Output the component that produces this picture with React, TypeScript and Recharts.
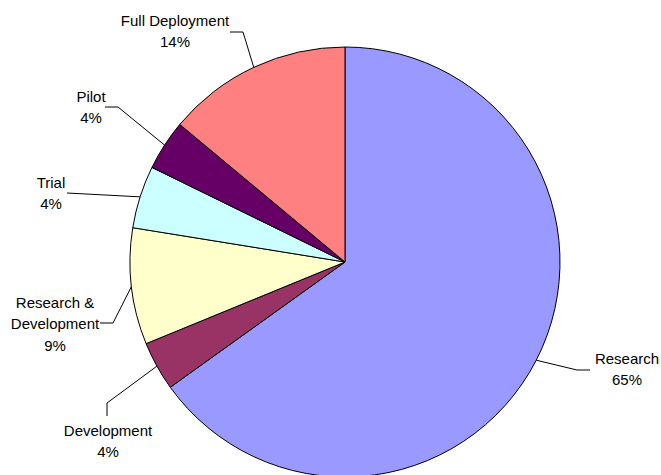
import { Cell, Pie, PieChart } from 'recharts'

// 단계별 비중 — 엑셀 원형 차트 재현. 위(12시)에서 시계 방향으로 돈다.
const stageNames = [
  'Research',
  'Development',
  'Research &\nDevelopment',
  'Trial',
  'Pilot',
  'Full Deployment',
]
const stageShares = [65.1, 3.7, 8.75, 4.7, 3.8, 13.95]
const shareLabels = ['65%', '4%', '9%', '4%', '4%', '14%']
const sliceColors = ['#9999FF', '#993366', '#FFFFCC', '#CCFFFF', '#660066', '#FF8080']

// 라벨 배치 (원 중심 기준 오프셋): 꺾이는 점, 라벨에 닿는 끝점, 글자 중심
const labelLayout = [
  { elbow: [232, 108], end: [245, 108], tx: 282, ty: 96 },
  { elbow: [-238, 141], end: [-238, 154], tx: -237, ty: 168 },
  { elbow: [-232, 61], end: [-245, 61], tx: -290, ty: 40 },
  { elbow: [-278, -69], end: [-278, -69], tx: -294, ty: -80 },
  { elbow: [-227, -155], end: [-240, -155], tx: -254, ty: -166 },
  { elbow: [-102, -230], end: [-115, -230], tx: -170, ty: -242 },
]

const data = stageNames.map((name, i) => ({ name, value: stageShares[i] }))

const RAD = Math.PI / 180

function renderLabel(props: any) {
  const { cx, cy, midAngle, outerRadius, index } = props
  const layout = labelLayout[index]
  const sx = cx + outerRadius * Math.cos(-midAngle * RAD)
  const sy = cy + outerRadius * Math.sin(-midAngle * RAD)
  const lines = [...stageNames[index].split('\n'), shareLabels[index]]
  const pts = [
    [sx, sy],
    [cx + layout.elbow[0], cy + layout.elbow[1]],
    [cx + layout.end[0], cy + layout.end[1]],
  ]
  return (
    <g key={`lbl-${index}`}>
      <polyline
        points={pts.map((p) => p.join(',')).join(' ')}
        fill="none"
        stroke="#000"
        strokeWidth={1}
      />
      {lines.map((line, j) => (
        <text
          key={j}
          x={cx + layout.tx}
          y={cy + layout.ty + j * 21.5}
          textAnchor="middle"
          dominantBaseline="central"
          fontSize={15}
          fill="#000"
        >
          {line}
        </text>
      ))}
    </g>
  )
}

export default function App() {
  return (
    <div
      style={{
        position: 'absolute',
        left: 0,
        top: 0,
        width: 661,
        height: 475,
        background: '#fff',
        fontFamily: '"Liberation Sans", Arial, sans-serif',
        overflow: 'hidden',
      }}
    >
      <PieChart width={661} height={475} margin={{ top: 0, right: 0, bottom: 0, left: 0 }}>
        <Pie
          data={data}
          dataKey="value"
          nameKey="name"
          cx={345}
          cy={262}
          outerRadius={215}
          startAngle={90}
          endAngle={-270}
          stroke="#000"
          strokeWidth={1}
          label={renderLabel}
          labelLine={false}
          isAnimationActive={false}
        >
          {data.map((d, i) => (
            <Cell key={d.name} fill={sliceColors[i]} />
          ))}
        </Pie>
      </PieChart>
    </div>
  )
}
